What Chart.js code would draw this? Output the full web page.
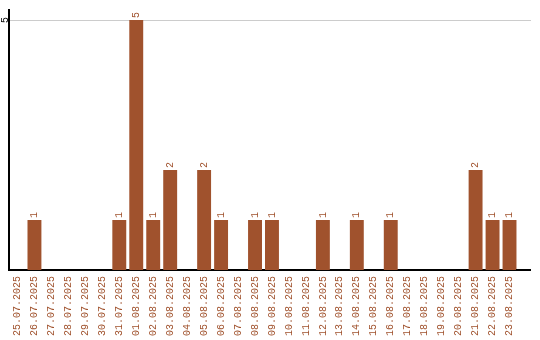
<!DOCTYPE html>
<html>
<head>
<meta charset="utf-8">
<script src="https://cdn.jsdelivr.net/npm/chart.js@4/dist/chart.umd.min.js"></script>
<style>
    html, body { margin: 0; padding: 0; background: #fff; }
    #wrap { width: 540px; height: 340px; }
</style>
</head>
<body>
<div id="wrap"><canvas id="chart"></canvas></div>
<script>
const days = [
    '25.07.2025', '26.07.2025', '27.07.2025', '28.07.2025', '29.07.2025', '30.07.2025',
    '31.07.2025', '01.08.2025', '02.08.2025', '03.08.2025', '04.08.2025', '05.08.2025',
    '06.08.2025', '07.08.2025', '08.08.2025', '09.08.2025', '10.08.2025', '11.08.2025',
    '12.08.2025', '13.08.2025', '14.08.2025', '15.08.2025', '16.08.2025', '17.08.2025',
    '18.08.2025', '19.08.2025', '20.08.2025', '21.08.2025', '22.08.2025', '23.08.2025'
];
const counts = [
    0, 1, 0, 0, 0, 0,
    1, 5, 1, 2, 0, 2,
    1, 0, 1, 1, 0, 0,
    1, 0, 1, 0, 1, 0,
    0, 0, 0, 2, 1, 1
];
const yTicks = [5];

const barColor = '#a0522d';
const monoFont = '10px "Liberation Mono", "DejaVu Sans Mono", monospace';
const axisEnd = 531; // axis line and grid run a bit past the last bar slot

const labelsPlugin = {
    id: 'rotatedLabels',
    beforeDatasetsDraw(chart) {
        const ctx = chart.ctx;
        const area = chart.chartArea;
        const y = chart.scales.y;
        ctx.save();
        ctx.strokeStyle = '#cccccc';
        ctx.lineWidth = 1;
        yTicks.forEach(v => {
            const py = Math.round(y.getPixelForValue(v)) + 0.5;
            ctx.beginPath();
            ctx.moveTo(area.right, py);
            ctx.lineTo(axisEnd, py);
            ctx.stroke();
        });
        ctx.restore();
    },
    afterDatasetsDraw(chart) {
        const ctx = chart.ctx;
        const meta = chart.getDatasetMeta(0);
        ctx.save();
        ctx.font = monoFont;
        ctx.fillStyle = barColor;
        ctx.textAlign = 'left';
        ctx.textBaseline = 'middle';
        meta.data.forEach((bar, i) => {
            if (!counts[i]) return;
            ctx.save();
            ctx.translate(bar.x, bar.y - 2);
            ctx.rotate(-Math.PI / 2);
            ctx.fillText(String(counts[i]), 0, 0);
            ctx.restore();
        });

        const y = chart.scales.y;
        ctx.fillStyle = '#000';
        ctx.textAlign = 'center';
        yTicks.forEach(v => {
            ctx.save();
            ctx.translate(5, y.getPixelForValue(v));
            ctx.rotate(-Math.PI / 2);
            ctx.fillText(String(v), 0, 0);
            ctx.restore();
        });
        ctx.restore();
    },
    afterDraw(chart) {
        const ctx = chart.ctx;
        const area = chart.chartArea;
        const yLine = Math.round(chart.scales.x.top);
        ctx.save();
        ctx.strokeStyle = '#000';
        ctx.lineWidth = 2;
        ctx.beginPath();
        ctx.moveTo(Math.floor(area.right) - 2, yLine);
        ctx.lineTo(axisEnd, yLine);
        ctx.stroke();
        ctx.restore();
    }
};

new Chart(document.getElementById('chart'), {
    type: 'bar',
    data: {
        labels: days,
        datasets: [{
            data: counts,
            backgroundColor: barColor,
            borderWidth: 0,
            barPercentage: 0.82,
            categoryPercentage: 1
        }]
    },
    options: {
        responsive: true,
        maintainAspectRatio: false,
        animation: false,
        layout: { padding: { top: 10, right: 22, left: 0, bottom: 0 } },
        plugins: {
            legend: { display: false },
            tooltip: { enabled: false }
        },
        scales: {
            x: {
                grid: { display: false, drawTicks: false },
                border: { color: '#000', width: 2 },
                ticks: {
                    color: barColor,
                    font: { family: '"Liberation Mono", "DejaVu Sans Mono", monospace', size: 10 },
                    minRotation: 90,
                    maxRotation: 90,
                    autoSkip: false,
                    padding: 6
                },
                afterFit: (scale) => { scale.height = 70; }
            },
            y: {
                min: 0,
                max: 5.2,
                afterBuildTicks: (scale) => { scale.ticks = yTicks.map(v => ({ value: v })); },
                grid: { color: '#cccccc', drawTicks: false },
                border: { color: '#000', width: 2 },
                ticks: { display: false },
                afterFit: (scale) => { scale.width = 9; }
            }
        }
    },
    plugins: [labelsPlugin]
});
</script>
</body>
</html>
